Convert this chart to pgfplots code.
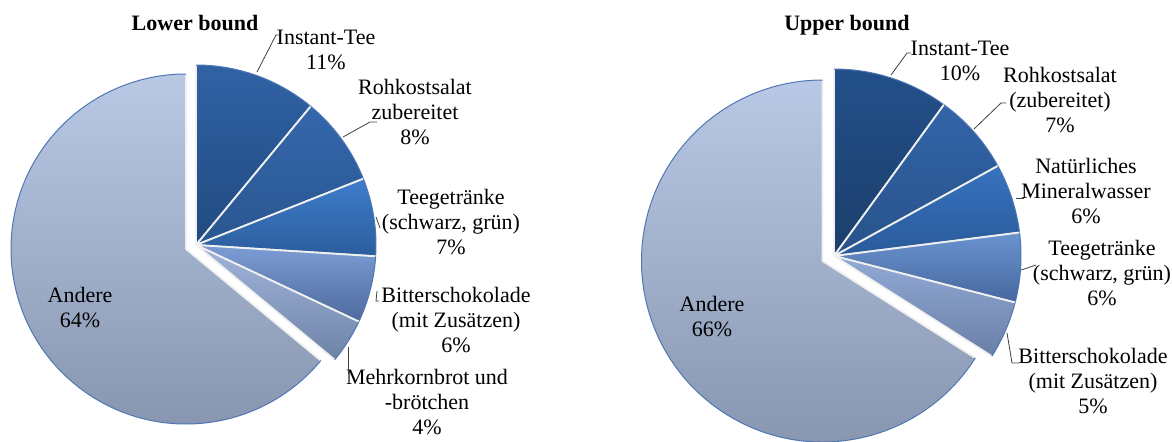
\documentclass[border=0pt]{standalone}
\usepackage{pgfplots}
\pgfplotsset{compat=1.18}
\usepackage{fontspec}
\setmainfont{Liberation Serif}

% left pie colours
\definecolor{lA1}{HTML}{3062A5}\definecolor{lA2}{HTML}{214A80}
\definecolor{lB1}{HTML}{3467AD}\definecolor{lB2}{HTML}{2A5690}
\definecolor{lC1}{HTML}{3E7CCB}\definecolor{lC2}{HTML}{2C5D9C}
\definecolor{lD1}{HTML}{7C9DD4}\definecolor{lD2}{HTML}{4E6A9E}
\definecolor{lE1}{HTML}{A2B6DB}\definecolor{lE2}{HTML}{6F82A8}
% right pie colours
\definecolor{rA1}{HTML}{23508A}\definecolor{rA2}{HTML}{1C3E6B}
\definecolor{rB1}{HTML}{3264A8}\definecolor{rB2}{HTML}{28528A}
\definecolor{rC1}{HTML}{3772BF}\definecolor{rC2}{HTML}{2A5A9A}
\definecolor{rD1}{HTML}{6A93D0}\definecolor{rD2}{HTML}{47679E}
\definecolor{rE1}{HTML}{91AAD6}\definecolor{rE2}{HTML}{6A7FA6}
% Andere
\definecolor{an1}{HTML}{B9C9E5}\definecolor{an2}{HTML}{8593AD}
\definecolor{edge}{HTML}{4F77B3}

\newcommand\cum{0}
% #1 cx, #2 cy (pixel coords, y down), #3 radius, #4 value (%), #5 top colour, #6 bottom colour
\newcommand\pieslice[6]{%
  \pgfmathsetmacro\aS{90-3.6*\cum}%
  \pgfmathsetmacro\aE{90-3.6*(\cum+#4)}%
  \shade[top color=#5,bottom color=#6] (axis cs:#1,{441-#2}) -- ++(\aS:#3)
     arc[start angle=\aS,end angle=\aE,radius=#3] -- cycle;
  \draw[white!94!black,line width=0.9pt,line join=round] (axis cs:#1,{441-#2}) ++(\aS:#3)
     -- (axis cs:#1,{441-#2}) -- ++(\aE:#3);
  \draw[edge,line width=0.5pt] (axis cs:#1,{441-#2}) ++(\aS:#3)
     arc[start angle=\aS,end angle=\aE,radius=#3];
  \pgfmathsetmacro\newcum{\cum+#4}\global\let\cum\newcum
}
\newcommand\lbl[3]{\node[align=center,inner sep=0pt,font=\fontsize{11}{12.5}\selectfont] at (axis cs:#1,{441-#2}) {#3};}
\newcommand\lead[1]{\draw[black!75,line width=0.4pt] #1;}

\begin{document}
\begin{tikzpicture}
\begin{axis}[name=ax,x=0.5pt,y=0.5pt,xmin=0,xmax=1172,ymin=0,ymax=441,
  hide axis,clip=true]
\pgfplotsextra{
  % ---------- Lower bound ----------
  \gdef\cum{0}
  \pieslice{196}{245}{90pt}{11}{lA1}{lA2}
  \pieslice{196}{245}{90pt}{8}{lB1}{lB2}
  \pieslice{196}{245}{90pt}{7}{lC1}{lC2}
  \pieslice{196}{245}{90pt}{6}{lD1}{lD2}
  \pieslice{196}{245}{90pt}{4}{lE1}{lE2}
  \pieslice{186}{249}{87.5pt}{64}{an1}{an2}
  % ---------- Upper bound ----------
  \gdef\cum{0}
  \pieslice{834}{256}{93.5pt}{10}{rA1}{rA2}
  \pieslice{834}{256}{93.5pt}{7}{rB1}{rB2}
  \pieslice{834}{256}{93.5pt}{6}{rC1}{rC2}
  \pieslice{834}{256}{93.5pt}{6}{rD1}{rD2}
  \pieslice{834}{256}{93.5pt}{5}{rE1}{rE2}
  \pieslice{822.5}{261}{90.5pt}{66}{an1}{an2}
  % ---------- titles ----------
  \node[inner sep=0pt,font=\fontsize{11}{12.5}\selectfont\bfseries] at (axis cs:195,{441-23}) {Lower bound};
  \node[inner sep=0pt,font=\fontsize{11}{12.5}\selectfont\bfseries] at (axis cs:847,{441-25}) {Upper bound};
  % ---------- labels left ----------
  \lbl{326}{50}{Instant-Tee\\11\%}
  \lbl{415}{112}{Rohkostsalat\\zubereitet\\8\%}
  \lbl{451}{222}{Teegetränke\\(schwarz, grün)\\7\%}
  \lbl{456}{320}{Bitterschokolade\\(mit Zusätzen)\\6\%}
  \lbl{427}{402}{Mehrkornbrot und\\-brötchen\\4\%}
  \lbl{80}{308}{Andere\\64\%}
  \lead{(axis cs:257,{441-72}) -- (axis cs:276,{441-35}) -- (axis cs:279,{441-35})}
  \lead{(axis cs:343,{441-137}) -- (axis cs:370,{441-122}) -- (axis cs:377,{441-122})}
  \lead{(axis cs:376,{441-217}) -- (axis cs:380,{441-228})}
  \lead{(axis cs:377,{441-291}) -- (axis cs:376,{441-301}) -- (axis cs:379,{441-301})}
  \lead{(axis cs:348,{441-347}) -- (axis cs:348,{441-374})}
  % ---------- labels right ----------
  \lbl{960}{61}{Instant-Tee\\10\%}
  \lbl{1060}{100}{Rohkostsalat\\(zubereitet)\\7\%}
  \lbl{1086}{191}{Natürliches\\Mineralwasser\\6\%}
  \lbl{1102}{273}{Teegetränke\\(schwarz, grün)\\6\%}
  \lbl{1093}{381}{Bitterschokolade\\(mit Zusätzen)\\5\%}
  \lbl{712}{317}{Andere\\66\%}
  \lead{(axis cs:891,{441-75}) -- (axis cs:907,{441-53}) -- (axis cs:911,{441-53})}
  \lead{(axis cs:974,{441-129}) -- (axis cs:1001,{441-103}) -- (axis cs:1006,{441-103})}
  \lead{(axis cs:1016,{441-198}) -- (axis cs:1024,{441-198})}
  \lead{(axis cs:1021,{441-270}) -- (axis cs:1036,{441-265})}
  \lead{(axis cs:1007,{441-333}) -- (axis cs:1012,{441-363}) -- (axis cs:1019,{441-363})}
}
\end{axis}
\pgfresetboundingbox
\useasboundingbox (ax.south west) rectangle (ax.north east);
\end{tikzpicture}
\end{document}
